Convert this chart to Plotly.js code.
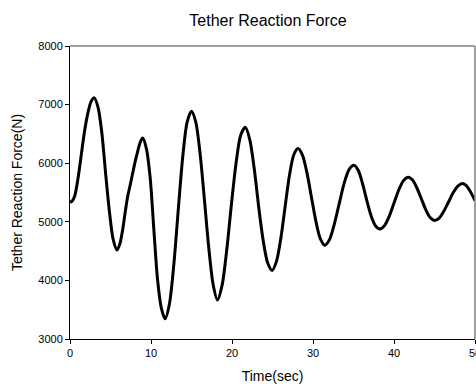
<!DOCTYPE html>
<html>
<head>
<meta charset="utf-8">
<script src="https://cdn.plot.ly/plotly-3.0.1.min.js"></script>
<style>html,body{margin:0;padding:0;background:#fff;}#chart{width:476px;height:388px;}</style>
</head>
<body>
<div id="chart"></div>
<script>
var timeSec = [0, 0.3, 0.6, 1.0, 1.4, 1.8, 2.2, 2.6, 3.0,
  3.47, 3.93, 4.4, 4.87, 5.33, 5.8,
  6.15, 6.5, 6.8, 7.12, 7.45, 7.74, 8.05, 8.35, 8.65, 8.97,
  9.43, 9.9, 10.36, 10.82, 11.29, 11.75,
  12.29, 12.83, 13.38, 13.92, 14.46, 15.0,
  15.53, 16.07, 16.6, 17.13, 17.67, 18.2,
  18.78, 19.35, 19.93, 20.5, 21.08, 21.65,
  22.2, 22.75, 23.3, 23.85, 24.4, 24.95,
  25.48, 26.02, 26.55, 27.08, 27.62, 28.15,
  28.7, 29.25, 29.8, 30.35, 30.9, 31.45,
  32.05, 32.65, 33.25, 33.85, 34.45, 35.05,
  35.58, 36.12, 36.65, 37.18, 37.72, 38.25,
  38.83, 39.42, 40.0, 40.58, 41.17, 41.75,
  42.29, 42.83, 43.38, 43.92, 44.46, 45.0,
  45.58, 46.15, 46.73, 47.3, 47.88, 48.45,
  48.9, 49.4, 50];
var forceN = [5330, 5360, 5450, 5750, 6150, 6550, 6850, 7050, 7115,
  6950, 6520, 5820, 5170, 4700, 4520,
  4620, 4864, 5150, 5431, 5640, 5830, 6030, 6199, 6350, 6430,
  6250, 5750, 4850, 4000, 3520, 3345,
  3610, 4290, 5230, 6110, 6700, 6885,
  6700, 6150, 5370, 4560, 3930, 3665,
  3920, 4520, 5300, 6000, 6480, 6612,
  6400, 5900, 5250, 4680, 4300, 4170,
  4320, 4710, 5250, 5780, 6140, 6250,
  6139, 5838, 5425, 5013, 4711, 4600,
  4700, 4970, 5320, 5660, 5890, 5965,
  5880, 5650, 5360, 5100, 4930, 4876,
  4935, 5098, 5319, 5541, 5703, 5762,
  5712, 5577, 5392, 5207, 5072, 5022,
  5064, 5180, 5337, 5495, 5610, 5652,
  5620, 5520, 5363];
var xTicks = [0, 10, 20, 30, 40, 50];
var yTicks = [3000, 4000, 5000, 6000, 7000, 8000];
var chartTitle = "Tether Reaction Force";
var xTitle = "Time(sec)";
var yTitle = "Tether Reaction Force(N)";

var trace = {
  x: timeSec, y: forceN, type: "scatter", mode: "lines",
  line: {color: "#000", width: 3, shape: "spline", smoothing: 0.8},
  hoverinfo: "none"
};
var layout = {
  width: 476, height: 388,
  margin: {l: 70, r: 1, t: 46, b: 49},
  paper_bgcolor: "#fff", plot_bgcolor: "#fff",
  showlegend: false,
  font: {family: "Liberation Sans, Arial, sans-serif", color: "#000"},
  title: {text: chartTitle, font: {size: 16, color: "#000"}, x: 0.563, xanchor: "center", y: 0.947, yanchor: "middle"},
  xaxis: {
    range: [0, 50], tickvals: xTicks,
    showgrid: false, zeroline: false, showline: true, linecolor: "#000", linewidth: 1,
    ticks: "outside", ticklen: 4, tickcolor: "#000", tickwidth: 1,
    tickfont: {size: 11, color: "#000"}, ticklabeloverflow: "allow",
    title: {text: xTitle, font: {size: 14, color: "#000"}, standoff: 12},
    automargin: false
  },
  yaxis: {
    range: [3000, 8000], tickvals: yTicks,
    showgrid: false, zeroline: false, showline: true, linecolor: "#000", linewidth: 1,
    ticks: "outside", ticklen: 4, tickcolor: "#000", tickwidth: 1,
    tickfont: {size: 11, color: "#000"}, ticklabeloverflow: "allow",
    title: {text: yTitle, font: {size: 14, color: "#000"}, standoff: 12},
    automargin: false
  },
  shapes: [
    {type: "line", xref: "paper", yref: "paper", x0: 0, x1: 1, y0: 1, y1: 1, line: {color: "#808080", width: 1.5}},
    {type: "line", xref: "paper", yref: "paper", x0: 1, x1: 1, y0: 0, y1: 1, line: {color: "#808080", width: 1.5}}
  ]
};
Plotly.newPlot("chart", [trace], layout, {staticPlot: true, displayModeBar: false});
</script>
</body>
</html>
